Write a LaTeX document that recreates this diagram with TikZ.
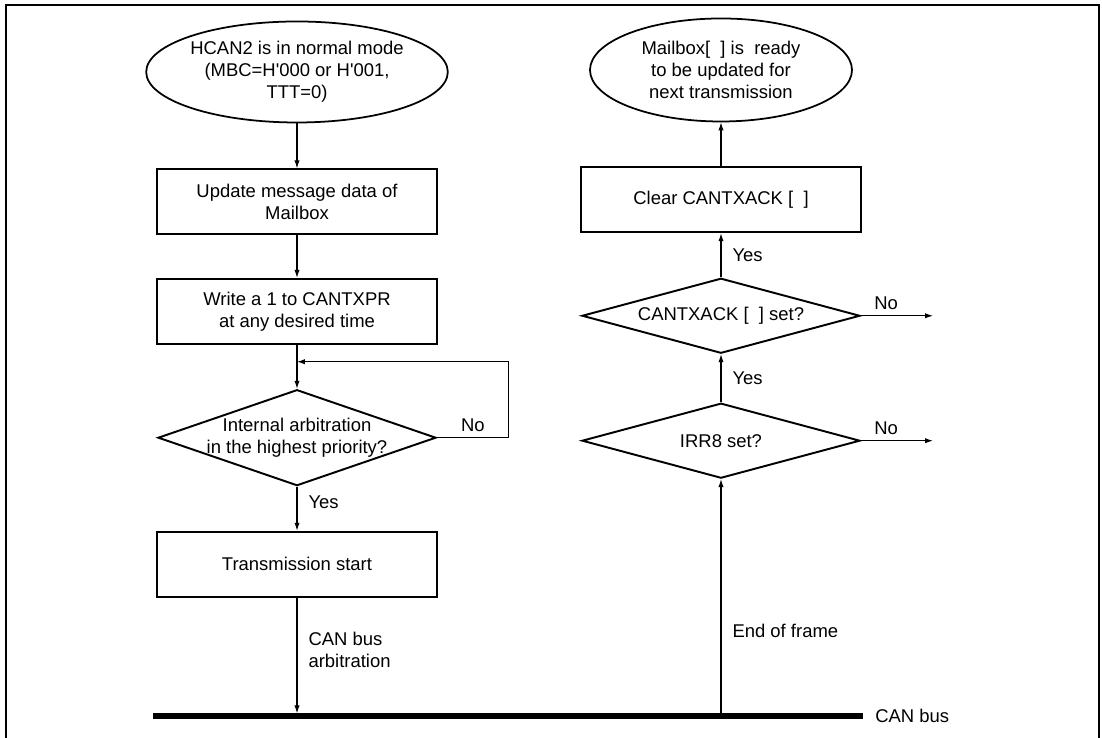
\documentclass[tikz,border=0pt]{standalone}
\usepackage{fontspec}
\setmainfont{Liberation Sans}
\usetikzlibrary{positioning,arrows.meta,shapes.geometric}
\tikzset{startend/.style={ellipse, draw, line width=1pt, minimum width=5.34cm,
  minimum height=2.02cm, inner sep=0pt, align=center}}
\tikzset{procbox/.style={rectangle, draw, line width=1.1pt, minimum width=5.6cm,
  minimum height=1.3cm, align=center}}
\tikzset{decide/.style={diamond, draw, line width=1.1pt, inner xsep=0pt, inner ysep=-3pt,
  minimum width=5.56cm, align=center}}
\tikzset{flow/.style={-{Latex[length=4.5pt,width=3pt]}, line width=0.6pt}}
\tikzset{sidelbl/.style={right, inner sep=0pt, xshift=0.22cm, align=left}}

\begin{document}
\begin{tikzpicture}[font=\fontsize{10.5}{12.5}\selectfont, node distance=9mm]
  \useasboundingbox (0,0) rectangle (22.04,14.76);
  \draw[line width=1.1pt] (0.12,-0.2) -- (0.12,14.66) -- (21.98,14.66) -- (21.98,-0.2);

  \node[startend] (normal) at (5.94,13.32)
    {HCAN2 is in normal mode\\(MBC=H\textquotesingle 000 or H\textquotesingle 001,\\TTT=0)};
  \node[procbox, below=0.9cm of normal] (update) {Update message data of\\Mailbox};
  \node[procbox, below=0.85cm of update] (write) {Write a 1 to CANTXPR\\at any desired time};
  \node[decide, aspect=2.9, minimum height=1.92cm, below=0.88cm of write] (arb)
    {Internal arbitration\\in the highest priority?};
  \node[procbox, below=0.88cm of arb] (tx) {Transmission start};

  \node[startend, minimum width=5.24cm, minimum height=2.06cm] (ready) at (14.42,13.36)
    {Mailbox[\ \ ]\ is\ \ ready\\to be updated for\\next transmission};
  \node[procbox, below=0.88cm of ready] (clear) {Clear CANTXACK [\ \ ]};
  \node[decide, aspect=3.7, minimum height=1.5cm, below=0.88cm of clear] (ack) {CANTXACK [\ \ ] set?};
  \node[decide, aspect=3.7, minimum height=1.5cm, below=0.96cm of ack] (irr) {IRR8 set?};

  \coordinate (busL) at (3.06,0.44);
  \coordinate (busR) at (17.26,0.44);
  \coordinate (busA) at (tx.south |- busL);
  \coordinate (busB) at (irr.south |- busL);
  \coordinate[above=0.54cm of arb.north] (join);
  \coordinate[right=1.44cm of ack.east] (ackno);
  \coordinate[right=1.44cm of irr.east] (irrno);

  \draw[flow] (normal) -- (update);
  \draw[flow] (update) -- (write);
  \draw[flow] (write) -- (arb);
  \draw[flow] (arb.east) -- node[above] {No} ++(1.44,0) |- (join);
  \draw[flow] (arb) -- node[sidelbl, pos=0.35] {Yes} (tx);
  \draw[flow, shorten >=1.5pt] (tx) -- node[sidelbl, pos=0.44] {CAN bus\\arbitration} (busA);

  \draw[flow] (busB) -- node[sidelbl, pos=0.36] {End of frame} (irr.south);
  \draw[flow] (irr) -- node[sidelbl] {Yes} (ack);
  \draw[flow] (ack) -- node[sidelbl] {Yes} (clear);
  \draw[flow] (clear) -- (ready);
  \draw[flow] (ack.east) -- node[above, pos=0.35] {No} (ackno);
  \draw[flow] (irr.east) -- node[above, pos=0.35] {No} (irrno);

  \draw[line width=3.2pt] (busL) -- (busR);
  \node[right=2.4mm of busR, inner sep=0pt] (buslbl) {CAN bus};
\end{tikzpicture}
\end{document}
